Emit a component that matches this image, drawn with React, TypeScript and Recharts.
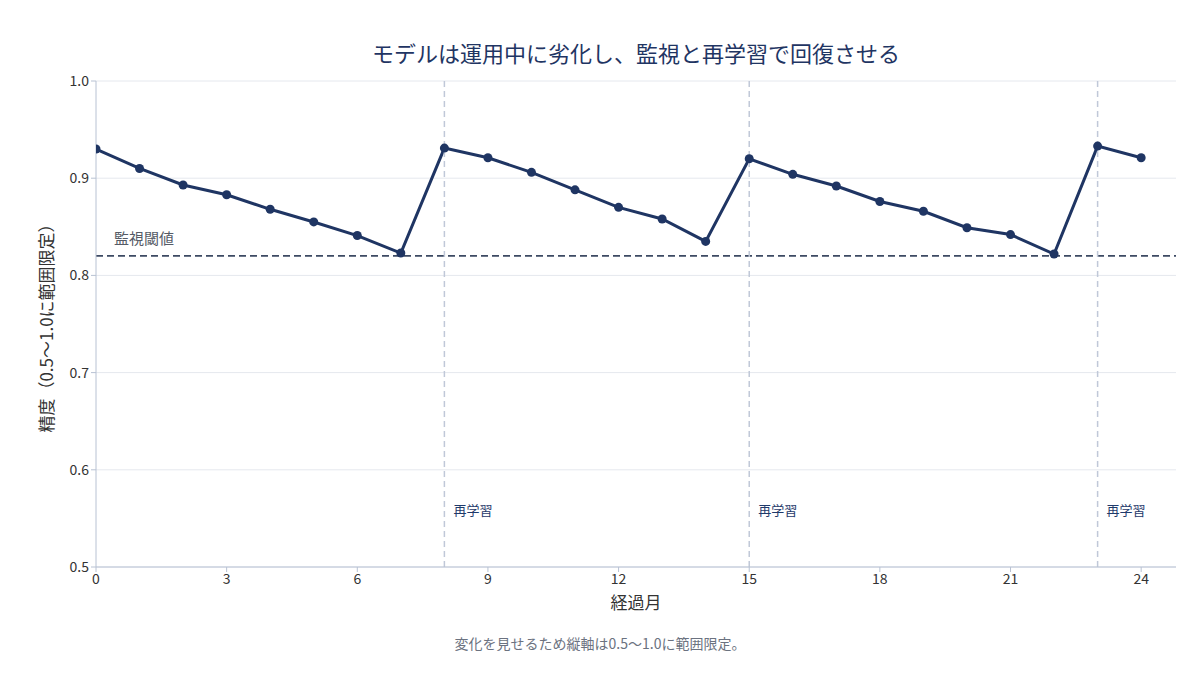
import React from 'react';
import { LineChart, Line, XAxis, YAxis, CartesianGrid, ReferenceLine } from 'recharts';

const months = [0, 1, 2, 3, 4, 5, 6, 7, 8, 9, 10, 11, 12, 13, 14, 15, 16, 17, 18, 19, 20, 21, 22, 23, 24];
const accuracy = [
  0.930, 0.910, 0.893, 0.883, 0.868, 0.855, 0.841, 0.823,
  0.931, 0.921, 0.906, 0.888, 0.870, 0.858, 0.835,
  0.920, 0.904, 0.892, 0.876, 0.866, 0.849, 0.842, 0.822,
  0.933, 0.921,
];
const retrainMonths = [8, 15, 23];
const threshold = 0.82;
const xTicks = [0, 3, 6, 9, 12, 15, 18, 21, 24];
const yTicks = [0.5, 0.6, 0.7, 0.8, 0.9, 1.0];

const FONT = '"Noto Sans CJK JP", "Noto Sans", sans-serif';
const NAVY = '#1f3563';

const data = months.map((m, i) => ({ month: m, acc: accuracy[i] }));

const RetrainLabel = (props: any) => {
  const { viewBox } = props;
  if (!viewBox) return null;
  return (
    <text x={viewBox.x + 9} y={viewBox.y + viewBox.height - 52} fill="#1f3a6b" fontSize={13} fontFamily={FONT}>
      再学習
    </text>
  );
};

const ThresholdLabel = (props: any) => {
  const { viewBox } = props;
  if (!viewBox) return null;
  return (
    <text x={viewBox.x + 18} y={viewBox.y - 12} fill="#555b66" fontSize={15} fontFamily={FONT}>
      監視閾値
    </text>
  );
};

export default function App() {
  return (
    <div style={{ position: 'absolute', left: 0, top: 0, width: 1200, height: 675, background: '#fff', fontFamily: FONT }}>
      <div style={{ position: 'absolute', left: 96, width: 1080, top: 36, textAlign: 'center', fontSize: 22, color: NAVY }}>
        モデルは運用中に劣化し、監視と再学習で回復させる
      </div>
      <LineChart width={1200} height={675} data={data} margin={{ top: 81, right: 24, bottom: 78, left: 0 }}>
        <CartesianGrid vertical={false} stroke="#e5e8ee" />
        <XAxis
          dataKey="month"
          type="number"
          domain={[0, 24.8]}
          ticks={xTicks}
          allowDataOverflow
          stroke="#b8c2d3"
          tickSize={5}
          tick={{ fill: '#333', fontSize: 14, fontFamily: FONT }}
          label={{ value: '経過月', position: 'insideBottom', offset: -12, fill: '#333', fontSize: 17, fontFamily: FONT }}
        />
        <YAxis
          type="number"
          domain={[0.5, 1.0]}
          ticks={yTicks}
          width={96}
          stroke="#b8c2d3"
          tickSize={5}
          tickFormatter={(v: number) => v.toFixed(1)}
          tick={{ fill: '#333', fontSize: 14, fontFamily: FONT }}
          label={{ value: '精度（0.5〜1.0に範囲限定）', angle: -90, position: 'insideLeft', offset: 47, fill: '#333', fontSize: 17, fontFamily: FONT, style: { textAnchor: 'middle' } }}
        />
        <ReferenceLine y={threshold} stroke="#3d4a63" strokeWidth={1.8} strokeDasharray="7 4" label={<ThresholdLabel />} />
        <Line
          type="linear"
          dataKey="acc"
          stroke={NAVY}
          strokeWidth={3}
          dot={{ r: 4.5, fill: NAVY, stroke: NAVY, strokeWidth: 0 }}
          activeDot={false}
          isAnimationActive={false}
        />
        {retrainMonths.map((m) => (
          <ReferenceLine key={m} x={m} stroke="#c0c8d8" strokeWidth={1.5} strokeDasharray="6 4" label={<RetrainLabel />} />
        ))}
      </LineChart>
      <div style={{ position: 'absolute', left: 0, width: 1200, top: 633, textAlign: 'center', fontSize: 14, color: '#6b7280' }}>
        変化を見せるため縦軸は0.5〜1.0に範囲限定。
      </div>
    </div>
  );
}
